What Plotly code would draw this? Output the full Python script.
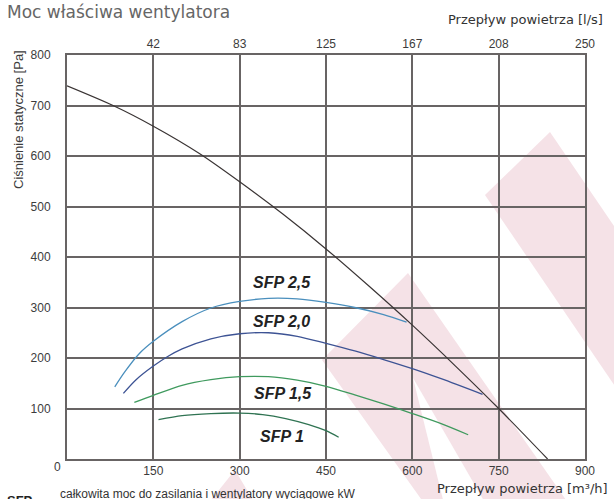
import plotly.graph_objects as go

# airflow [m3/h] vs static pressure [Pa]
fan_x = [0, 80, 150, 230, 300, 375, 450, 525, 600, 675, 750, 835]
fan_y = [739, 700, 659, 605, 549, 485, 416, 342, 265, 184, 100, 0]

sfp25_x = [83, 100, 125, 150, 200, 250, 300, 350, 400, 450, 500, 550, 590]
sfp25_y = [143, 172, 208, 233, 272, 299, 312, 318, 317, 310, 300, 286, 271]

sfp20_x = [98, 120, 150, 175, 200, 250, 300, 350, 400, 450, 500, 550, 600, 650, 722]
sfp20_y = [130, 157, 184, 203, 218, 238, 248, 250, 243, 229, 214, 197, 179, 159, 128]

sfp15_x = [117, 150, 200, 250, 300, 350, 400, 450, 500, 550, 600, 650, 697]
sfp15_y = [112, 126, 146, 157, 163, 163, 156, 144, 127, 109, 90, 70, 48]

sfp10_x = [159, 200, 250, 300, 340, 380, 420, 450, 472]
sfp10_y = [78, 86, 90, 91, 88, 80, 68, 56, 43]

x_ticks = [150, 300, 450, 600, 750, 900]
top_ticktext = ["42", "83", "125", "167", "208", "250"]
y_ticks = [100, 200, 300, 400, 500, 600, 700, 800]

sfp_labels = ["SFP 2,5", "SFP 2,0", "SFP 1,5", "SFP 1"]
label_pos = [(373, 349), (373, 272), (376, 130), (373, 44)]

W, H = 614, 499
ML, MR, MT, MB = 67, 29, 55, 40
PW, PH = W - ML - MR, H - MT - MB


def px(x):
    return (x - ML) / PW


def py(y):
    return (H - MB - y) / PH


def poly(points):
    return "M " + " L ".join(f"{px(a):.4f},{py(b):.4f}" for a, b in points) + " Z"


fig = go.Figure()

fig.add_trace(go.Scatter(x=fan_x, y=fan_y, mode="lines",
                         line=dict(color="#3a3434", width=1.2, shape="spline", smoothing=0.8),
                         showlegend=False, hoverinfo="skip"))
series = [
    (sfp25_x, sfp25_y, "#4a8fbd"),
    (sfp20_x, sfp20_y, "#3d5394"),
    (sfp15_x, sfp15_y, "#3f9a5e"),
    (sfp10_x, sfp10_y, "#2f7352"),
]
for xs, ys, col in series:
    fig.add_trace(go.Scatter(x=xs, y=ys, mode="lines",
                             line=dict(color=col, width=1.3, shape="spline", smoothing=0.8),
                             showlegend=False, hoverinfo="skip"))

# invisible trace to activate the top (l/s) axis
fig.add_trace(go.Scatter(x=[0, 900], y=[0, 0], xaxis="x2", mode="lines", line=dict(width=0),
                         showlegend=False, hoverinfo="skip"))

axis_font = dict(family="Arial, Liberation Sans, sans-serif", size=12, color="#3c3c3c")
grid_col = "#686464"

fig.update_layout(
    width=W, height=H,
    margin=dict(l=ML, r=MR, t=MT, b=MB),
    paper_bgcolor="white",
    plot_bgcolor="rgba(0,0,0,0)",
    xaxis=dict(range=[0, 900], tickvals=x_ticks, showgrid=True, gridcolor=grid_col, gridwidth=2,
               showline=True, linecolor=grid_col, linewidth=2, mirror=True, zeroline=False,
               tickfont=axis_font, ticks="", fixedrange=True),
    xaxis2=dict(range=[0, 900], overlaying="x", side="top", tickvals=x_ticks, ticktext=top_ticktext,
                showgrid=False, zeroline=False, showline=False, tickfont=axis_font, ticks="",
                ticklabelstandoff=4),
    yaxis=dict(range=[0, 800], tickvals=y_ticks, showgrid=True, gridcolor=grid_col, gridwidth=2,
               showline=True, linecolor=grid_col, linewidth=2, mirror=True, zeroline=False,
               tickfont=axis_font, ticks="", ticklabelstandoff=12),
)

# watermark bands in the background
pink = "#f5e2e7"
shapes = [
    dict(type="path", path=poly([(485, 195), (550, 132), (850, 573), (785, 636)])),
    dict(type="path", path=poly([(322, 360), (408, 273), (580, 520), (436, 520)])),
    dict(type="path", path=poly([(195, 520), (235, 470), (265, 520)])),
]
for s in shapes:
    s.update(xref="paper", yref="paper", fillcolor=pink, line=dict(width=0), layer="below")
fig.update_layout(shapes=shapes)
fig.add_shape(type="path", path=poly([(413, 378), (448, 520), (495, 520)]), xref="paper", yref="paper",
              fillcolor="white", line=dict(width=0), layer="below")

for text, (lx, ly) in zip(sfp_labels, label_pos):
    fig.add_annotation(x=lx, y=ly, text=f"<b><i>{text}</i></b>", showarrow=False,
                       font=dict(family="Arial, Liberation Sans, sans-serif", size=16, color="#222222"))

fig.add_annotation(x=px(5), y=py(12), xref="paper", yref="paper", xanchor="left", yanchor="middle",
                   text="Moc właściwa wentylatora", showarrow=False,
                   font=dict(family="DejaVu Sans", size=17, color="#666666"))
fig.add_annotation(x=px(605), y=py(20), xref="paper", yref="paper", xanchor="right", yanchor="middle",
                   text="Przepływ powietrza [l/s]", showarrow=False,
                   font=dict(family="DejaVu Sans", size=13, color="#333333"))
fig.add_annotation(x=px(610), y=py(488), xref="paper", yref="paper", xanchor="right", yanchor="middle",
                   text="Przepływ powietrza [m³/h]", showarrow=False,
                   font=dict(family="DejaVu Sans", size=13, color="#333333"))
fig.add_annotation(x=px(18), y=py(120), xref="paper", yref="paper", xanchor="center", yanchor="middle",
                   text="Ciśnienie statyczne [Pa]", textangle=-90, showarrow=False,
                   font=dict(family="Arial, Liberation Sans, sans-serif", size=13, color="#3c3c3c"))
fig.add_annotation(x=px(57), y=py(467), xref="paper", yref="paper", xanchor="center", yanchor="middle",
                   text="0", showarrow=False, font=axis_font)
fig.add_annotation(x=px(5), y=py(500), xref="paper", yref="paper", xanchor="left", yanchor="middle",
                   text="<b>SFP</b>", showarrow=False,
                   font=dict(family="Arial, Liberation Sans, sans-serif", size=13, color="#222222"))
fig.add_annotation(x=px(58), y=py(494), xref="paper", yref="paper", xanchor="left", yanchor="middle",
                   text="całkowita moc do zasilania i wentylatory wyciągowe kW", showarrow=False,
                   font=dict(family="Arial, Liberation Sans, sans-serif", size=12, color="#333333"))

# drop the default page margin so the figure sits at the top-left corner
fig.write_html("out.html", config={"displayModeBar": False},
               post_script="document.body.style.margin = '0';")
